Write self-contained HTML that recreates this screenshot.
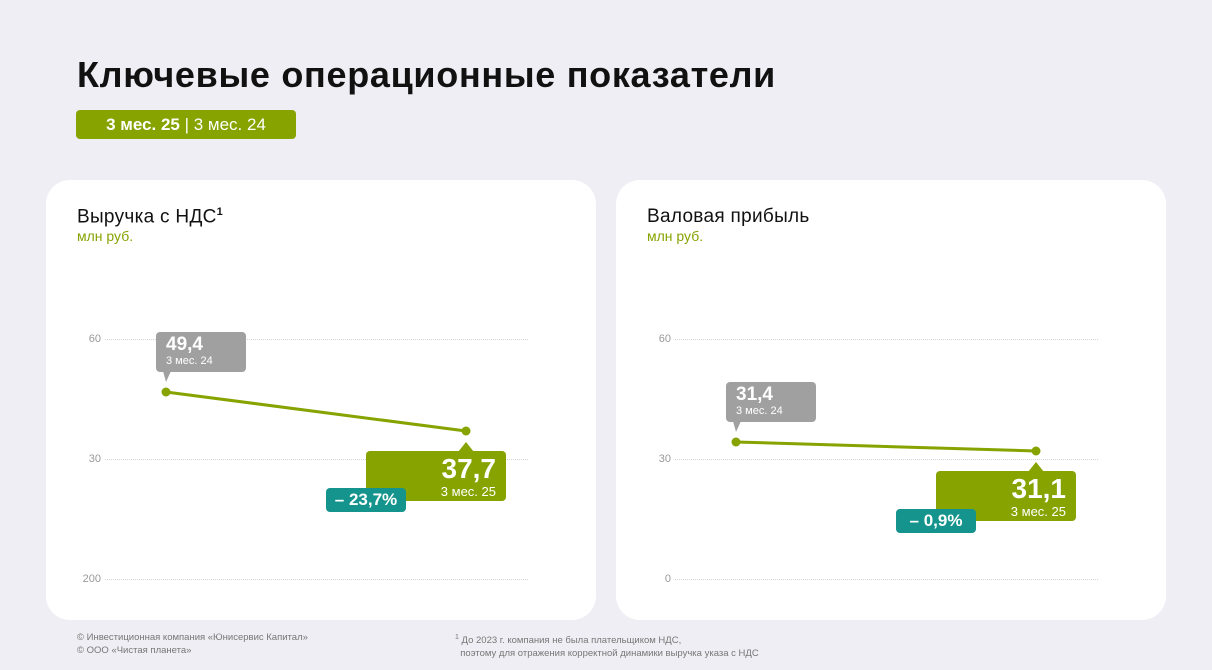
<!DOCTYPE html>
<html><head><meta charset="utf-8"><style>
*{margin:0;padding:0;box-sizing:border-box}
body{width:1212px;height:670px;background:#efeef4;font-family:"Liberation Sans",sans-serif;position:relative;overflow:hidden}
.a{position:absolute}
.panel{position:absolute;top:180px;width:550px;height:440px;background:#fff;border-radius:24px}
.h{font-size:19px;color:#111;letter-spacing:0.3px}
.u{font-size:14px;color:#86a300}
.grid{position:absolute;height:0;border-top:1px dotted #d4d4d4}
.tick{position:absolute;font-size:11px;color:#999;text-align:right;width:30px}
.gray{position:absolute;background:#a0a0a0;border-radius:4px;color:#fff;padding:3px 10px}
.green{position:absolute;background:#86a300;border-radius:4px;color:#fff;text-align:right;padding:3px 10px}
.teal{position:absolute;background:#14948c;border-radius:4px;color:#fff;font-weight:bold;font-size:17px;text-align:center;line-height:24px}
.foot{font-size:9.5px;color:#777;line-height:13px}
</style></head><body>
<div class="a" style="left:77px;top:54px;font-size:36px;font-weight:bold;color:#111;letter-spacing:0.7px">Ключевые операционные показатели</div>
<div class="a" style="left:76px;top:110px;width:220px;height:29px;background:#86a300;border-radius:4px;color:#fff;font-size:17px;line-height:29px;text-align:center"><b>3 мес. 25</b> | 3 мес. 24</div>

<div class="panel" style="left:46px"></div>
<div class="panel" style="left:616px"></div>

<div class="a h" style="left:77px;top:206px">Выручка с НДС<sup style="font-size:11px;font-weight:bold">1</sup></div>
<div class="a u" style="left:77px;top:228px">млн руб.</div>
<div class="a h" style="left:647px;top:206px">Валовая прибыль</div>
<div class="a u" style="left:647px;top:228px">млн руб.</div>

<div class="grid" style="left:105px;width:423px;top:339px"></div>
<div class="grid" style="left:105px;width:423px;top:459px"></div>
<div class="grid" style="left:105px;width:423px;top:579px"></div>
<div class="tick" style="left:71px;top:333px">60</div>
<div class="tick" style="left:71px;top:453px">30</div>
<div class="tick" style="left:71px;top:573px">200</div>

<div class="grid" style="left:675px;width:423px;top:339px"></div>
<div class="grid" style="left:675px;width:423px;top:459px"></div>
<div class="grid" style="left:675px;width:423px;top:579px"></div>
<div class="tick" style="left:641px;top:333px">60</div>
<div class="tick" style="left:641px;top:453px">30</div>
<div class="tick" style="left:641px;top:573px">0</div>

<svg class="a" style="left:0;top:0" width="1212" height="670">
<line x1="166" y1="392" x2="466" y2="431" stroke="#86a300" stroke-width="3"/>
<circle cx="166" cy="392" r="4.5" fill="#86a300"/><circle cx="466" cy="431" r="4.5" fill="#86a300"/>
<polygon points="163,371 171,371 166,382" fill="#a0a0a0"/>
<polygon points="458,452 466,442 474,452" fill="#86a300"/>
<line x1="736" y1="442" x2="1036" y2="451" stroke="#86a300" stroke-width="3"/>
<circle cx="736" cy="442" r="4.5" fill="#86a300"/><circle cx="1036" cy="451" r="4.5" fill="#86a300"/>
<polygon points="733,421 741,421 736,432" fill="#a0a0a0"/>
<polygon points="1028,472 1036,462 1044,472" fill="#86a300"/>
</svg>

<div class="gray" style="left:156px;top:332px;width:90px;height:40px"><div style="font-size:19px;font-weight:bold;line-height:20px">49,4</div><div style="font-size:11px">3 мес. 24</div></div>
<div class="green" style="left:366px;top:451px;width:140px;height:50px"><div style="font-size:28px;font-weight:bold;line-height:30px">37,7</div><div style="font-size:13px">3 мес. 25</div></div>
<div class="teal" style="left:326px;top:488px;width:80px;height:24px">– 23,7%</div>

<div class="gray" style="left:726px;top:382px;width:90px;height:40px"><div style="font-size:19px;font-weight:bold;line-height:20px">31,4</div><div style="font-size:11px">3 мес. 24</div></div>
<div class="green" style="left:936px;top:471px;width:140px;height:50px"><div style="font-size:28px;font-weight:bold;line-height:30px">31,1</div><div style="font-size:13px">3 мес. 25</div></div>
<div class="teal" style="left:896px;top:509px;width:80px;height:24px">– 0,9%</div>

<div class="a foot" style="left:77px;top:631px">© Инвестиционная компания «Юнисервис Капитал»<br>© ООО «Чистая планета»</div>
<div class="a foot" style="left:455px;top:631px"><sup style="font-size:7px">1</sup> До 2023 г. компания не была плательщиком НДС,<br>&nbsp;&nbsp;поэтому для отражения корректной динамики выручка указа с НДС</div>
</body></html>
